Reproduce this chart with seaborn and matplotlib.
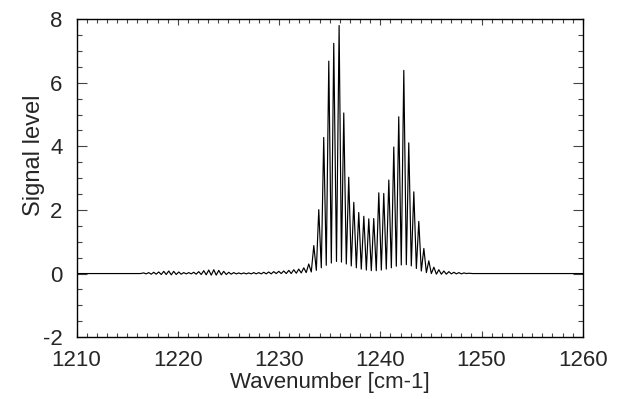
import pandas as pd
import seaborn as sns
import matplotlib
matplotlib.use("Agg")
import matplotlib.pyplot as plt
from matplotlib.ticker import MultipleLocator

# line tops (wavenumber, signal)
peak_wn = [1216.63, 1217.12, 1217.62, 1218.11, 1218.61, 1219.10, 1219.59, 1220.09,
           1220.58, 1221.08, 1221.57, 1222.06, 1222.56, 1223.05, 1223.55, 1224.04,
           1224.53, 1225.03, 1225.52, 1226.02, 1226.51, 1227.00, 1227.50, 1227.99,
           1228.49, 1228.98, 1229.47, 1229.97, 1230.46, 1230.96, 1231.45, 1231.94,
           1232.44,
           1232.93, 1233.43, 1233.92, 1234.41, 1234.91, 1235.40, 1235.93, 1236.39,
           1236.88, 1237.38, 1237.87, 1238.37, 1238.86, 1239.35, 1239.85, 1240.34,
           1240.84, 1241.33, 1241.82, 1242.32, 1242.81, 1243.31, 1243.80, 1244.30,
           1244.79,
           1245.29, 1245.78, 1246.28, 1246.77, 1247.27, 1247.76, 1248.26, 1248.75]
peak_val = [0.02, 0.03, 0.04, 0.05, 0.07, 0.08, 0.07, 0.05,
            0.03, 0.03, 0.04, 0.06, 0.09, 0.11, 0.12, 0.10,
            0.07, 0.04, 0.03, 0.02, 0.02, 0.02, 0.03, 0.03,
            0.04, 0.05, 0.06, 0.07, 0.08, 0.10, 0.12, 0.14,
            0.18,
            0.30, 0.88, 2.01, 4.28, 6.68, 7.24, 7.80, 5.05,
            3.03, 2.24, 1.92, 1.80, 1.72, 1.73, 2.54, 2.52,
            2.94, 3.98, 4.93, 6.39, 4.11, 2.57, 1.64, 0.79,
            0.40,
            0.20, 0.12, 0.08, 0.06, 0.04, 0.03, 0.02, 0.01]

# valleys between the lines, plus the flat ends
trough_wn = [1210.00, 1216.30,
             1216.87, 1217.37, 1217.86, 1218.36, 1218.85, 1219.35, 1219.84, 1220.33,
             1220.83, 1221.32, 1221.81, 1222.31, 1222.80, 1223.30, 1223.79, 1224.29,
             1224.78, 1225.27, 1225.77, 1226.26, 1226.76, 1227.25, 1227.74, 1228.24,
             1228.73, 1229.22, 1229.72, 1230.21, 1230.71, 1231.20, 1231.70, 1232.19,
             1232.68,
             1233.18, 1233.68, 1234.17, 1234.66, 1235.16, 1235.67, 1236.16, 1236.64,
             1237.13, 1237.63, 1238.12, 1238.62, 1239.11, 1239.60, 1240.10, 1240.59,
             1241.09, 1241.58, 1242.07, 1242.57, 1243.06, 1243.56, 1244.05, 1244.55,
             1245.04,
             1245.54, 1246.03, 1246.52, 1247.02, 1247.51, 1248.01, 1248.50,
             1249.10, 1260.00]
trough_val = [0.0, 0.0,
              -0.01, -0.02, -0.02, -0.03, -0.03, -0.04, -0.03, -0.02,
              -0.01, -0.01, -0.02, -0.03, -0.04, -0.05, -0.05, -0.04,
              -0.03, -0.02, -0.01, -0.01, -0.01, -0.01, -0.01, -0.01,
              -0.01, -0.01, 0.0, 0.0, 0.0, 0.0, 0.01, 0.02,
              0.03,
              0.05, 0.10, 0.18, 0.26, 0.33, 0.38, 0.36, 0.30,
              0.24, 0.18, 0.14, 0.11, 0.09, 0.09, 0.11, 0.14,
              0.18, 0.23, 0.27, 0.28, 0.24, 0.16, 0.08, 0.03,
              0.0,
              -0.02, -0.02, -0.02, -0.01, -0.01, -0.01, 0.0,
              0.0, 0.0]

df = pd.concat([
    pd.DataFrame({"wn": peak_wn, "signal": peak_val}),
    pd.DataFrame({"wn": trough_wn, "signal": trough_val}),
]).sort_values("wn").reset_index(drop=True)

sns.set_style("ticks")
plt.rcParams["font.family"] = ["Liberation Sans", "DejaVu Sans"]
plt.rcParams["axes.unicode_minus"] = False

fig = plt.figure(figsize=(6.28, 3.99), dpi=100)
ax = fig.add_axes([0.122, 0.155, 0.806, 0.797])

sns.lineplot(data=df, x="wn", y="signal", sort=True, estimator=None,
             color="black", linewidth=0.85, ax=ax)

ax.set_xlim(1210, 1260)
ax.set_ylim(-2, 8)
ax.xaxis.set_major_locator(MultipleLocator(10))
ax.xaxis.set_minor_locator(MultipleLocator(1))
ax.yaxis.set_major_locator(MultipleLocator(2))
ax.yaxis.set_minor_locator(MultipleLocator(0.5))
ax.tick_params(which="both", direction="in", top=True, right=True,
               color="#444444", width=0.8, labelsize=16)
ax.tick_params(axis="x", which="major", length=4.5, pad=9)
ax.tick_params(axis="x", which="minor", length=2.6)
ax.tick_params(axis="y", which="major", length=7.2, pad=10)
ax.tick_params(axis="y", which="minor", length=3.6)
for s in ax.spines.values():
    s.set_linewidth(1.0)
    s.set_color("black")

ax.set_xlabel("Wavenumber [cm-1]", fontsize=16)
ax.set_ylabel("Signal level", fontsize=17)
ax.xaxis.set_label_coords(0.5, -0.11)
ax.yaxis.set_label_coords(-0.063, 0.572)

fig.savefig("out.png", dpi=100)
plt.close(fig)
